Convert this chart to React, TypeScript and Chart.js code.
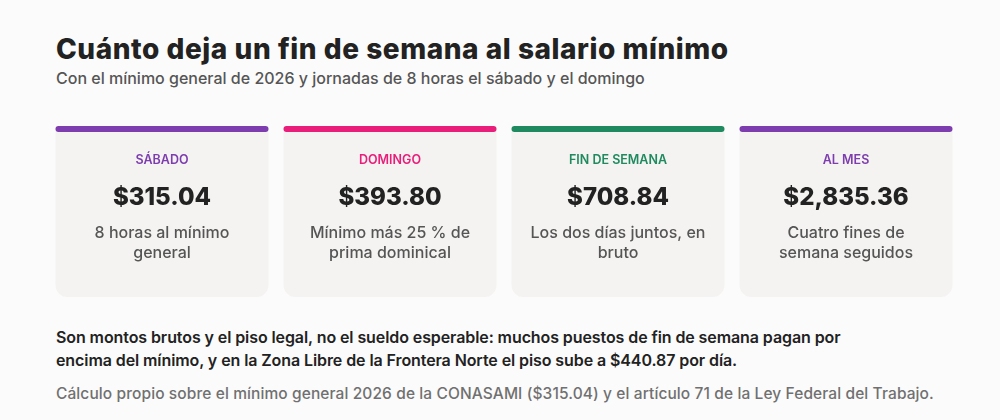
import { useEffect, useRef } from 'react';
import { Chart, registerables } from 'chart.js';

Chart.register(...registerables);

const categories = ['SÁBADO', 'DOMINGO', 'FIN DE SEMANA', 'AL MES'];
const amounts = [315.04, 393.8, 708.84, 2835.36];
const descriptions = [
  ['8 horas al mínimo', 'general'],
  ['Mínimo más 25 % de', 'prima dominical'],
  ['Los dos días juntos, en', 'bruto'],
  ['Cuatro fines de', 'semana seguidos'],
];
const accentColors = ['#7d3daf', '#e91e7a', '#1f8a5f', '#7d3daf'];

const FONT = 'Inter, "Noto Sans", sans-serif';

const money = (v: number) =>
  '$' + v.toLocaleString('en-US', { minimumFractionDigits: 2, maximumFractionDigits: 2 });

// draws label / amount / description inside each card, centred on the bar
const cardText = {
  id: 'cardText',
  afterDatasetsDraw(chart: Chart) {
    const { ctx, chartArea } = chart;
    const meta = chart.getDatasetMeta(0);
    ctx.save();
    ctx.textAlign = 'center';
    ctx.textBaseline = 'middle';
    meta.data.forEach((bar: any, i: number) => {
      const x = bar.x;
      const top = chartArea.top;
      ctx.fillStyle = accentColors[i];
      ctx.font = `600 12.5px ${FONT}`;
      ctx.fillText(categories[i], x, top + 34);
      ctx.fillStyle = '#222222';
      ctx.font = `800 24px ${FONT}`;
      ctx.fillText(money(amounts[i]), x, top + 72);
      ctx.fillStyle = '#555555';
      ctx.font = `500 16px ${FONT}`;
      descriptions[i].forEach((line, j) => {
        ctx.fillText(line, x, top + 107 + j * 20);
      });
    });
    ctx.restore();
  },
};

function Cards() {
  const chartRef = useRef<HTMLCanvasElement>(null);
  const chartInstance = useRef<Chart | null>(null);

  useEffect(() => {
    if (!chartRef.current) return;
    if (chartInstance.current) chartInstance.current.destroy();

    chartInstance.current = new Chart(chartRef.current, {
      type: 'bar',
      data: {
        labels: categories,
        datasets: [
          {
            label: 'card',
            data: categories.map(() => [0, 0.98]) as any,
            backgroundColor: '#f4f3f1',
            borderRadius: { topLeft: 3, topRight: 3, bottomLeft: 12, bottomRight: 12 },
            borderSkipped: false,
            order: 2,
          },
          {
            label: 'accent',
            data: categories.map(() => [0.965, 1]) as any,
            backgroundColor: accentColors,
            borderRadius: 3,
            borderSkipped: false,
            order: 1,
          },
        ],
      },
      options: {
        responsive: false,
        animation: false,
        layout: { padding: 0 },
        datasets: {
          bar: {
            grouped: false,
            categoryPercentage: 1,
            barPercentage: 213 / 228,
          },
        },
        plugins: {
          legend: { display: false },
          tooltip: { enabled: false },
        },
        scales: {
          x: { display: false },
          y: { display: false, min: 0, max: 1 },
        },
      },
      plugins: [cardText],
    });

    return () => {
      if (chartInstance.current) {
        chartInstance.current.destroy();
        chartInstance.current = null;
      }
    };
  }, []);

  return (
    <canvas
      ref={chartRef}
      width={912}
      height={171}
      style={{ position: 'absolute', left: 48, top: 126, width: 912, height: 171 }}
    />
  );
}

export default function App() {
  return (
    <div
      style={{
        position: 'fixed',
        left: 0,
        top: 0,
        width: 1000,
        height: 420,
        background: '#fbfbfb',
        fontFamily: FONT,
        overflow: 'hidden',
      }}
    >
      <div
        style={{
          position: 'absolute',
          left: 56,
          top: 31,
          fontSize: 28,
          fontWeight: 800,
          color: '#222222',
          letterSpacing: 0.55,
          whiteSpace: 'nowrap',
          lineHeight: '36px',
        }}
      >
        Cuánto deja un fin de semana al salario mínimo
      </div>
      <div
        style={{
          position: 'absolute',
          left: 56,
          top: 67,
          fontSize: 16,
          fontWeight: 500,
          color: '#555555',
          whiteSpace: 'nowrap',
          lineHeight: '22px',
        }}
      >
        Con el mínimo general de 2026 y jornadas de 8 horas el sábado y el domingo
      </div>
      <Cards />
      <div
        style={{
          position: 'absolute',
          left: 56,
          top: 326,
          fontSize: 16,
          fontWeight: 600,
          color: '#222222',
          letterSpacing: -0.09,
          whiteSpace: 'nowrap',
          lineHeight: '23px',
        }}
      >
        Son montos brutos y el piso legal, no el sueldo esperable: muchos puestos de fin de semana pagan por
        <br />
        encima del mínimo, y en la Zona Libre de la Frontera Norte el piso sube a $440.87 por día.
      </div>
      <div
        style={{
          position: 'absolute',
          left: 56,
          top: 383,
          fontSize: 15.5,
          fontWeight: 500,
          color: '#707070',
          letterSpacing: 0.1,
          whiteSpace: 'nowrap',
          lineHeight: '22px',
        }}
      >
        Cálculo propio sobre el mínimo general 2026 de la CONASAMI ($315.04) y el artículo 71 de la Ley Federal del Trabajo.
      </div>
    </div>
  );
}
